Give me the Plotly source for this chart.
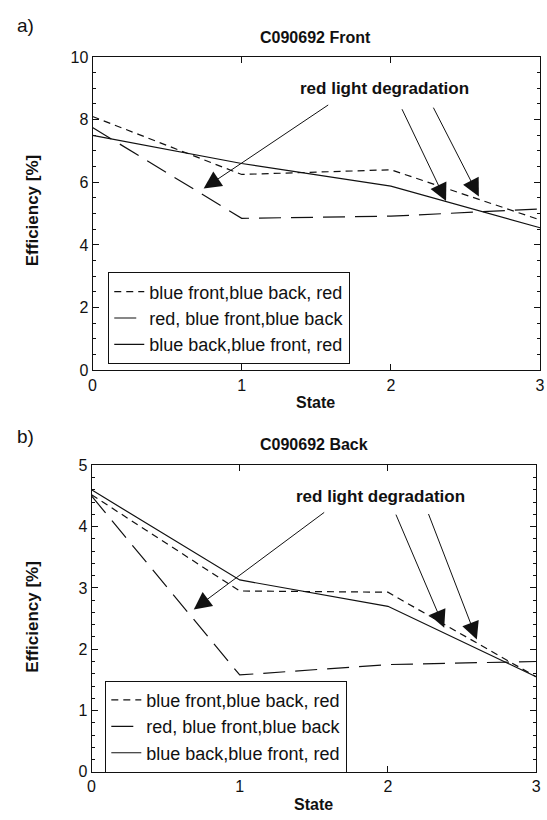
import plotly.graph_objects as go

# ---------------- data ----------------
states = [0, 1, 2, 3]
series_names = ["blue front,blue back, red",
                "red, blue front,blue back",
                "blue back,blue front, red"]

front_bfbbr = [8.1, 6.25, 6.4, 4.8]
front_rbfbb = [7.75, 4.85, 4.92, 5.15]
front_bbbfr = [7.5, 6.6, 5.88, 4.55]

back_bfbbr = [4.52, 2.95, 2.93, 1.55]
back_rbfbb = [4.5, 1.58, 1.75, 1.8]
back_bbbfr = [4.6, 3.13, 2.7, 1.55]

x_ticks = [0, 1, 2, 3]
front_yticks = [0, 2, 4, 6, 8, 10]
back_yticks = [0, 1, 2, 3, 4, 5]

annot_text = "red light degradation"
# arrows: (tail_x, tail_y, tip_x, tip_y)
front_arrows = [(1.59, 8.5, 0.745, 5.8), (2.07, 8.38, 2.37, 5.4), (2.28, 8.43, 2.59, 5.55)]
back_arrows = [(1.58, 4.25, 0.69, 2.65), (2.05, 4.22, 2.38, 2.35), (2.27, 4.23, 2.6, 2.16)]
front_text_pos = (1.96, 9.0)
back_text_pos = (1.95, 4.49)

# ---------------- styles ----------------
W, H = 547, 820
FONT = "Liberation Sans, Arial, Helvetica, sans-serif"
INK = "#111111"
dashes = ["7px,5px", "22px,10px", "solid"]

fig = go.Figure()

front = [front_bfbbr, front_rbfbb, front_bbbfr]
back = [back_bfbbr, back_rbfbb, back_bbbfr]

for name, ys, d in zip(series_names, front, dashes):
    fig.add_trace(go.Scatter(x=states, y=ys, mode="lines", name=name,
                             line=dict(color=INK, width=1.2, dash=d),
                             xaxis="x", yaxis="y", legend="legend"))
for name, ys, d in zip(series_names, back, dashes):
    fig.add_trace(go.Scatter(x=states, y=ys, mode="lines", name=name,
                             line=dict(color=INK, width=1.2, dash=d),
                             xaxis="x2", yaxis="y2", legend="legend2"))


def px_x(p):
    return p / W


def px_y(p):
    return 1 - p / H


axis_common = dict(showline=True, linecolor=INK, linewidth=1, mirror="ticks",
                   ticks="inside", ticklen=6, tickcolor=INK, showgrid=False,
                   zeroline=False, tickfont=dict(family=FONT, size=16, color=INK))

fig.update_layout(
    width=W, height=H,
    margin=dict(l=0, r=0, t=0, b=0),
    paper_bgcolor="white", plot_bgcolor="white",
    font=dict(family=FONT, color=INK),
    xaxis=dict(domain=[px_x(90), px_x(545)], range=[0, 3], anchor="y",
               tickvals=x_ticks, **axis_common),
    yaxis=dict(domain=[px_y(370), px_y(50)], range=[0, 10], anchor="x",
               tickvals=front_yticks, minor=dict(ticks="inside", ticklen=3, dtick=0.5, tickcolor=INK),
               **axis_common),
    xaxis2=dict(domain=[px_x(89), px_x(541)], range=[0, 3], anchor="y2",
                tickvals=x_ticks, **axis_common),
    yaxis2=dict(domain=[px_y(780), px_y(467)], range=[0, 5], anchor="x2",
                tickvals=back_yticks, minor=dict(ticks="inside", ticklen=3, dtick=0.2, tickcolor=INK),
                **axis_common),
    legend=dict(x=px_x(106), y=px_y(270), xanchor="left", yanchor="top",
                bordercolor=INK, borderwidth=1, bgcolor="white",
                font=dict(family=FONT, size=18, color=INK), itemwidth=30,
                tracegroupgap=0),
    legend2=dict(x=px_x(103), y=px_y(687), xanchor="left", yanchor="top",
                 bordercolor=INK, borderwidth=1, bgcolor="white",
                 font=dict(family=FONT, size=18, color=INK), itemwidth=30,
                 tracegroupgap=0),
    showlegend=True,
)

annotations = []


def label(text, x, y, size, bold=False, angle=0):
    t = f"<b>{text}</b>" if bold else text
    annotations.append(dict(text=t, x=px_x(x), y=px_y(y), xref="paper", yref="paper",
                            showarrow=False, xanchor="center", yanchor="middle",
                            textangle=angle, font=dict(family=FONT, size=size, color=INK)))


label("a)", 22, 18, 19)
label("b)", 22, 438, 19)
label("C090692 Front", 317, 30, 16, bold=True)
label("C090692 Back", 315, 446, 16, bold=True)
label("State", 317, 403, 16, bold=True)
label("State", 315, 813, 16, bold=True)
label("Efficiency [%]", 29, 207, 17, bold=True, angle=-90)
label("Efficiency [%]", 29, 622, 17, bold=True, angle=-90)

for (tx, ty), arrows, xr, yr in [(front_text_pos, front_arrows, "x", "y"),
                                 (back_text_pos, back_arrows, "x2", "y2")]:
    annotations.append(dict(text=f"<b>{annot_text}</b>", x=tx, y=ty, xref=xr, yref=yr,
                            showarrow=False, font=dict(family=FONT, size=17, color=INK)))
    for (ax, ay, hx, hy) in arrows:
        annotations.append(dict(text="", x=hx, y=hy, xref=xr, yref=yr,
                                ax=ax, ay=ay, axref=xr, ayref=yr,
                                showarrow=True, arrowhead=2, arrowsize=3.5,
                                arrowwidth=1, arrowcolor=INK, standoff=0))

fig.update_layout(annotations=annotations)

fig.write_html("out.html")
